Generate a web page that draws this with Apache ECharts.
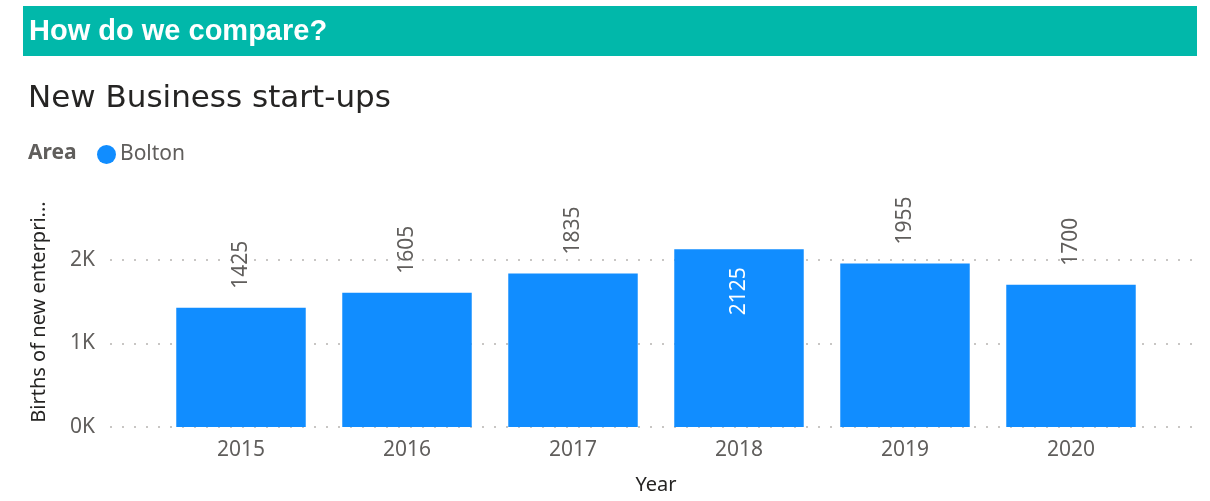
<!DOCTYPE html>
<html><head><meta charset="utf-8">
<script src="https://cdn.jsdelivr.net/npm/echarts@6/dist/echarts.min.js"></script>
<style>html,body{margin:0;padding:0;background:#fff}#c{width:1210px;height:501px}</style>
</head><body><div id="c"></div>
<script>
const years = ['2015','2016','2017','2018','2019','2020'];
const births = [1425, 1605, 1835, 2125, 1955, 1700];
const seriesName = 'Bolton';
const insideLabelYears = ['2018'];

const chart = echarts.init(document.getElementById('c'), null, {renderer:'canvas'});
const font = '"Noto Sans", "Open Sans", sans-serif';
const barData = births.map((v, i) => {
  if (insideLabelYears.includes(years[i])) {
    return {value: v, label: {position: 'insideTop', align: 'right', color: '#ffffff', distance: 18}};
  }
  return v;
});
chart.setOption({
  animation: false,
  graphic: [
    {type: 'rect', left: 23, top: 6, shape: {width: 1174, height: 50}, style: {fill: '#01B8AA'}},
    {type: 'text', left: 29, top: 17, style: {text: 'How do we compare?', fill: '#ffffff', font: 'bold 29px "Liberation Sans", Arial, sans-serif'}},
    {type: 'text', left: 28, top: 83, style: {text: 'New Business start-ups', fill: '#252423', font: '31px "DejaVu Sans", sans-serif'}},
    {type: 'text', left: 28, top: 143, style: {text: 'Area', fill: '#605E5C', font: 'bold 21px ' + font}}
  ],
  legend: {
    left: 92, top: 139, icon: 'circle', itemWidth: 19, itemHeight: 19, itemGap: 10,
    textStyle: {fontSize: 21, color: '#605E5C', fontFamily: font, padding: [0,0,0,-1]},
    data: [seriesName]
  },
  grid: [
    {left: 110, right: 10, top: 260, bottom: 74},
    {left: 158, right: 56, top: 197, bottom: 74}
  ],
  xAxis: [
    {gridIndex: 0, type: 'value', show: false, min: 0, max: 1},
    {gridIndex: 1, type: 'category', data: years,
     axisLine: {show: false}, axisTick: {show: false},
     axisLabel: {fontSize: 21, color: '#605E5C', fontFamily: font, margin: 13},
     name: 'Year', nameLocation: 'middle', nameGap: 48,
     nameTextStyle: {fontSize: 20, color: '#252423', fontFamily: font}}
  ],
  yAxis: [
    {gridIndex: 0, type: 'value', min: 0, max: 2000, interval: 1000,
     axisLine: {show: false}, axisTick: {show: false},
     axisLabel: {fontSize: 21, color: '#605E5C', fontFamily: font, margin: 15,
       formatter: v => (v/1000) + 'K'},
     splitLine: {show: true, lineStyle: {color: '#c8c6c4', width: 2, type: [2, 10]}}},
    {gridIndex: 1, type: 'value', min: 0, max: 2750,
     axisLine: {show: false}, axisTick: {show: false}, axisLabel: {show: false}, splitLine: {show: false},
     name: 'Births of new enterpri...', nameLocation: 'middle', nameGap: 109,
     nameTextStyle: {fontSize: 20, color: '#252423', fontFamily: font}}
  ],
  series: [{
    name: seriesName, type: 'bar', xAxisIndex: 1, yAxisIndex: 1,
    data: barData, barCategoryGap: '22%',
    itemStyle: {color: '#118DFF'},
    label: {show: true, position: 'top', rotate: 90, align: 'left', verticalAlign: 'middle',
      distance: 19, fontSize: 21, color: '#605E5C', fontFamily: font}
  }]
});
</script></body></html>
